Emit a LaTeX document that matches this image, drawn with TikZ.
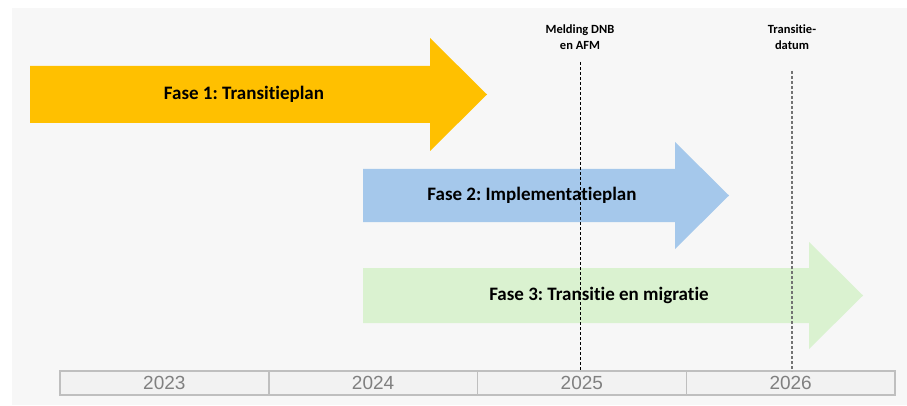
\documentclass[tikz,border=0pt]{standalone}
\usepackage{fontspec}
\setmainfont{Carlito}[Ligatures=NoCommon]
\newfontfamily\yearfont{Liberation Sans}
\usepackage{xcolor}
\usepackage{tikz}
\usetikzlibrary{positioning}
\frenchspacing

\begin{document}
\begin{tikzpicture}[x=1pt,y=-1pt]
\definecolor{faseorange}{HTML}{FFC000}
\definecolor{faseblue}{HTML}{A5C8EB}
\definecolor{fasegreen}{HTML}{DAF2D0}
\definecolor{panelgray}{HTML}{F7F7F7}
\tikzset{
  fase/.style={font=\bfseries\fontsize{19}{22}\selectfont},
  mijlpaal/.style={font=\bfseries\fontsize{12.5}{15.5}\selectfont,align=center},
  jaar/.style={draw=black!25,line width=1.5pt,fill=black!5,outer sep=0pt,
    minimum width=208.75pt,minimum height=24pt,inner sep=0pt,
    text=black!50,font=\yearfont\fontsize{19}{22}\selectfont}
}
\useasboundingbox (0,0) rectangle (907,406);
\fill[panelgray] (12,8) rectangle (907,405);

% Fase 1
\fill[faseorange] (30,66) -- (430,66) -- (430,38) -- (487,94.5) -- (430,151) -- (430,123) -- (30,123) -- cycle;
\node[fase] (fase1) at (244,94.5) {Fase 1: Transitieplan};

% Fase 2
\fill[faseblue] (363,169) -- (675,169) -- (675,142) -- (729,195.5) -- (675,249) -- (675,222) -- (363,222) -- cycle;
\node[fase] (fase2) at (532,195.5) {Fase 2: Implementatieplan};

% Fase 3
\fill[fasegreen] (363,268) -- (809,268) -- (809,242) -- (863,295.5) -- (809,349) -- (809,323) -- (363,323) -- cycle;
\node[fase] (fase3) at (599,295.5) {Fase 3: Transitie en migratie};

% tijdlijn
\node[jaar,anchor=north west] (y2023) at (60,371) {2023};
\node[jaar,right=0pt of y2023] (y2024) {2024};
\node[jaar,right=0pt of y2024] (y2025) {2025};
\node[jaar,right=0pt of y2025] (y2026) {2026};

% mijlpalen
\node[mijlpaal] (melding) at (580,37) {Melding DNB\\en AFM};
\node[mijlpaal] (transitie) at (792,37) {Transitie-\\datum};
\coordinate (d1) at (580,62);
\coordinate (d2) at (792,71);
\draw[black,line width=0.6pt,dash pattern=on 3pt off 2pt] (d1) -- (d1 |- y2025.north);
\draw[black!55,line width=1.2pt,dash pattern=on 3pt off 2pt] (d2) -- (d2 |- y2026.north);
\end{tikzpicture}
\end{document}
